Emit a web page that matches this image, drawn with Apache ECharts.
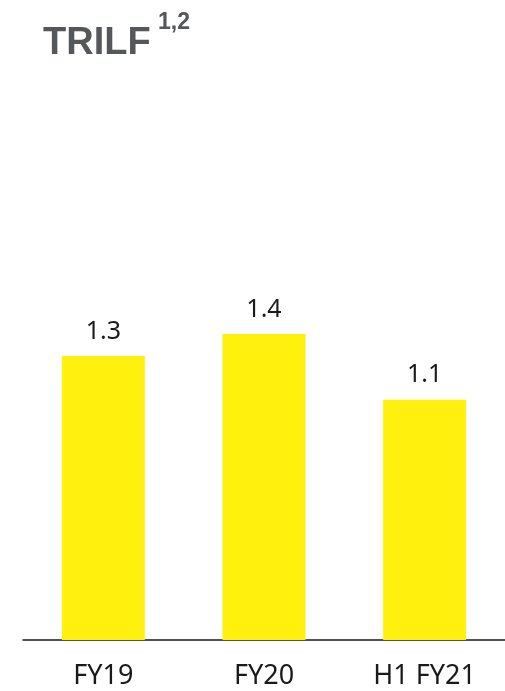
<!DOCTYPE html>
<html>
<head>
<meta charset="utf-8">
<script src="https://cdn.jsdelivr.net/npm/echarts@6/dist/echarts.min.js"></script>
<style>
  html, body { margin: 0; padding: 0; background: #fff; }
  #chart { width: 505px; height: 691px; }
</style>
</head>
<body>
<div id="chart"></div>
<script>
// 分类和数值
const categories = ['FY19', 'FY20', 'H1 FY21'];
const values = [1.3, 1.4, 1.1];
const titleText = 'TRILF';
const titleSup = '1,2';

const chart = echarts.init(document.getElementById('chart'));

const option = {
  animation: false,
  title: [
    {
      text: titleText,
      left: 38,
      top: 20,
      textStyle: {
        fontFamily: 'Liberation Sans',
        fontWeight: 'bold',
        fontSize: 38,
        color: '#55585b',
      },
    },
    {
      text: titleSup,
      left: 153,
      top: 6,
      textStyle: {
        fontFamily: 'Liberation Sans',
        fontWeight: 'bold',
        fontSize: 23,
        color: '#55585b',
      },
    },
  ],
  grid: {
    left: 23,
    right: 0,
    top: 203,
    bottom: 51,
  },
  xAxis: {
    type: 'category',
    data: categories,
    axisLine: { lineStyle: { color: '#1a1a1a', width: 1.5 } },
    axisTick: { show: false },
    axisLabel: {
      margin: 23,
      fontFamily: 'Noto Sans',
      fontSize: 27,
      color: '#1a1a1a',
    },
  },
  yAxis: {
    type: 'value',
    min: 0,
    max: 2,
    show: false,
    splitLine: { show: false },
  },
  series: [
    {
      type: 'bar',
      data: values,
      barWidth: 83,
      itemStyle: { color: '#fff10d' },
      label: {
        show: true,
        position: 'top',
        distance: 12,
        fontFamily: 'Noto Sans',
        fontSize: 25,
        color: '#1a1a1a',
        formatter: (p) => p.value.toFixed(1),
      },
    },
  ],
};

chart.setOption(option);
</script>
</body>
</html>
